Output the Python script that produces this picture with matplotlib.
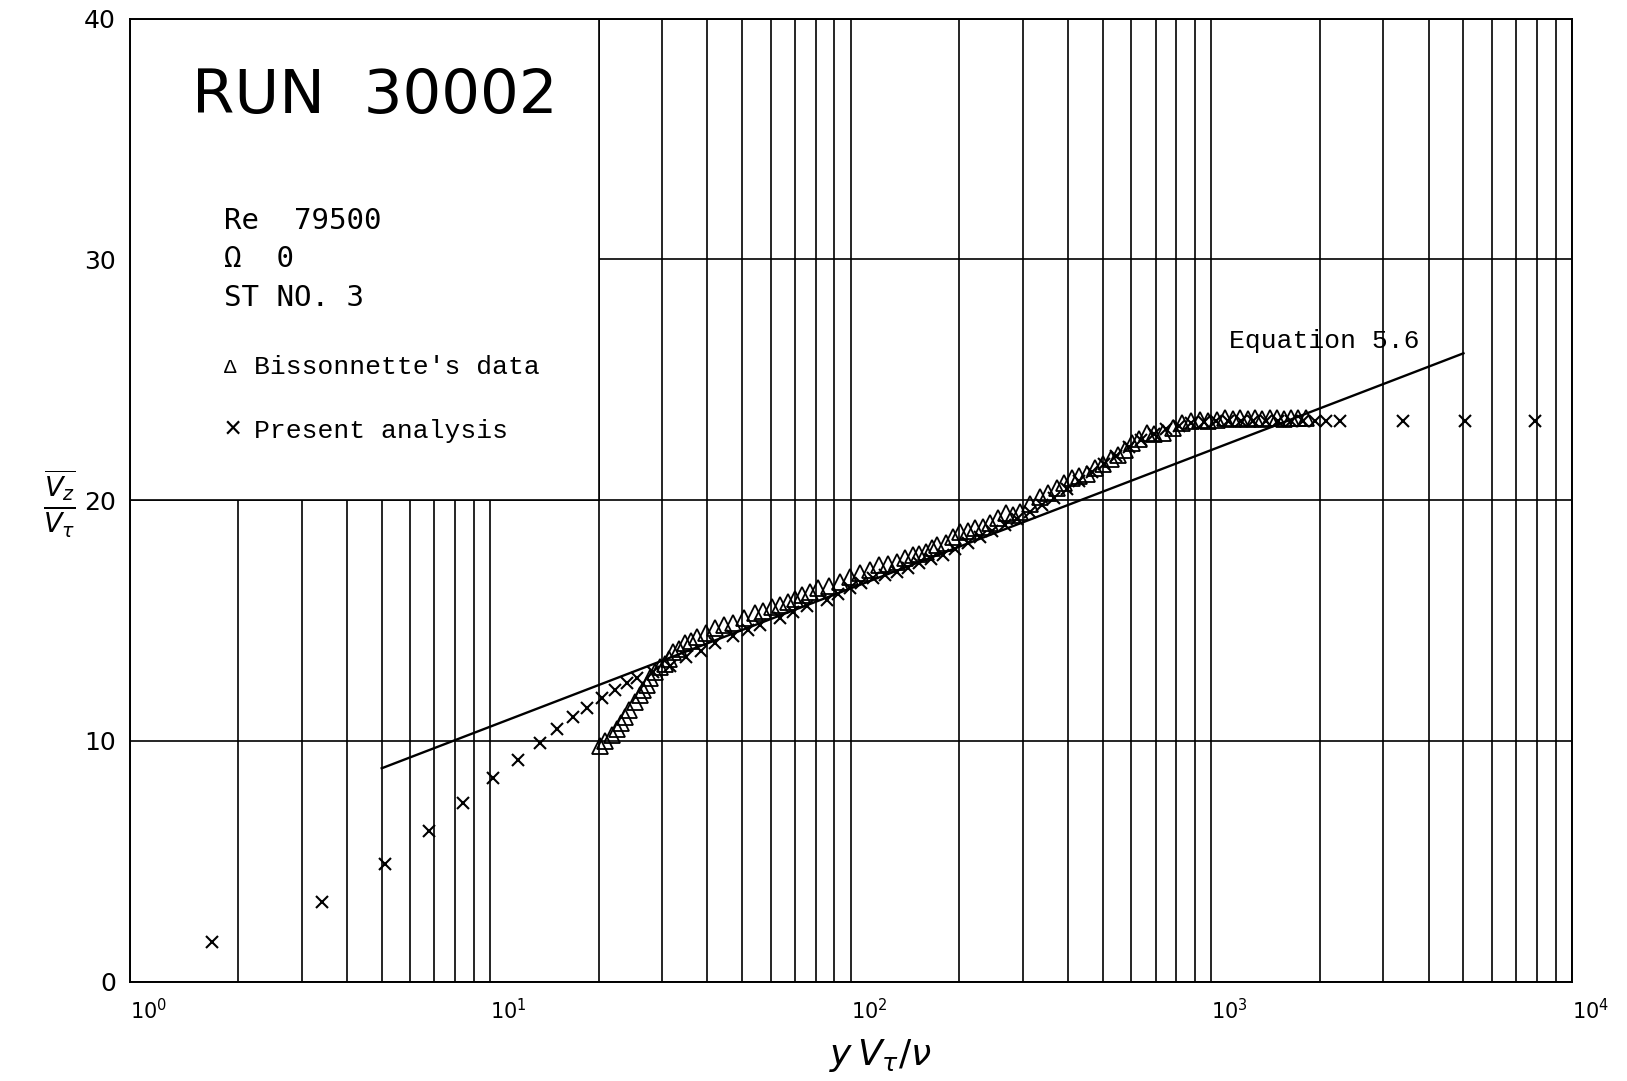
import matplotlib
matplotlib.use("Agg")
import matplotlib.pyplot as plt
from matplotlib.patches import Rectangle
from matplotlib.ticker import LogLocator, NullFormatter, FixedLocator

# ---- data -------------------------------------------------------------
# Equation 5.6 (log law), end points of the drawn segment
eq_x = [5.0, 5000.0]
eq_y = [8.86, 26.1]

# Bissonnette's data (triangles)
bis_x = [20.2, 20.8, 21.7, 22.4, 23.1, 23.7, 24.3, 25.2, 26.0, 26.6, 27.2, 27.7,
         28.6, 29.5, 30.5, 31.3, 32.2, 33.4, 34.7, 36.0, 37.4, 39.6, 42.0, 44.5,
         47.2, 50.5, 54.2, 57.0, 60.3, 63.5, 67.0, 70.0, 73.0, 77.0, 81.2, 87.0,
         93.3, 99.5, 106, 113, 120, 127, 134, 141, 149, 155, 162, 168, 173, 184,
         192, 201, 211, 221, 232, 243, 256, 270, 282, 294, 313, 334, 352, 372,
         390, 410, 430, 451, 475, 500, 525, 551, 575, 601, 630, 661, 695, 734,
         780, 827, 878, 929, 980, 1033, 1090, 1145, 1199, 1260, 1320, 1385,
         1450, 1520, 1590, 1660, 1740, 1830]
bis_y = [9.79, 10.0, 10.24, 10.5, 10.76, 11.0, 11.28, 11.6, 11.9, 12.1, 12.32, 12.6,
         12.85, 13.05, 13.2, 13.4, 13.7, 13.8, 14.05, 14.15, 14.3, 14.5, 14.7, 14.8,
         14.9, 15.1, 15.3, 15.4, 15.57, 15.65, 15.78, 15.9, 16.06, 16.2, 16.34, 16.45,
         16.61, 16.8, 16.96, 17.1, 17.31, 17.35, 17.44, 17.6, 17.72, 17.78, 17.86, 18.0,
         18.14, 18.2, 18.45, 18.69, 18.7, 18.83, 18.9, 19.04, 19.25, 19.45, 19.4, 19.5,
         19.85, 20.15, 20.3, 20.5, 20.7, 20.9, 21.0, 21.1, 21.35, 21.5, 21.7, 21.88,
         22.1, 22.36, 22.55, 22.78, 22.75, 22.8, 23.0, 23.19, 23.3, 23.33, 23.3, 23.33,
         23.4, 23.35, 23.4, 23.35, 23.4, 23.35, 23.4, 23.4, 23.35, 23.4, 23.4, 23.4]

# Present analysis (crosses)
pa_x = [1.69, 3.41, 5.1, 6.77, 8.42, 10.2, 11.96, 13.7, 15.3, 17.0, 18.6, 20.4,
        22.2, 23.9, 25.6, 28.3, 31.5, 35.0, 38.5, 42.0, 47.2, 52.0, 56.0, 63.6,
        69.0, 75.4, 85.7, 92.0, 99.4, 107, 115, 124, 134, 144, 155, 167, 180, 195,
        211, 228, 247, 267, 289, 313, 339, 367, 397, 430, 465, 503, 545, 590, 639,
        692, 749, 811, 878, 951, 1030, 1115, 1207, 1307, 1415, 1532, 1658, 1795,
        1943, 2085, 2270, 3404, 5047, 7888]
pa_y = [1.66, 3.32, 4.89, 6.27, 7.43, 8.47, 9.2, 9.9, 10.48, 10.98, 11.35, 11.77,
        12.1, 12.39, 12.6, 12.85, 13.1, 13.5, 13.75, 14.05, 14.35, 14.6, 14.8, 15.1,
        15.35, 15.6, 15.85, 16.1, 16.34, 16.55, 16.76, 16.9, 17.03, 17.2, 17.38, 17.55,
        17.72, 17.95, 18.2, 18.45, 18.7, 18.95, 19.2, 19.5, 19.8, 20.1, 20.45, 20.8,
        21.15, 21.5, 21.85, 22.2, 22.5, 22.75, 22.95, 23.1, 23.2, 23.25, 23.3, 23.3,
        23.3, 23.3, 23.3, 23.3, 23.3, 23.3, 23.3, 23.3, 23.3, 23.3, 23.3, 23.3]

x_ticks = [1, 10, 100, 1000, 10000]
x_tick_labels = [r"$10^{0}$", r"$10^{1}$", r"$10^{2}$", r"$10^{3}$", r"$10^{4}$"]
y_ticks = [0, 10, 20, 30, 40]
y_tick_labels = ["0", "10", "20", "30", "40"]

# ---- figure -----------------------------------------------------------
fig = plt.figure(figsize=(16.27, 10.81), dpi=100)
ax = fig.add_axes([0.0797, 0.092, 0.8865, 0.8907])

ax.set_xscale("log")
ax.set_xlim(1, 1e4)
ax.set_ylim(0, 40)
ax.set_axisbelow(True)

ax.xaxis.set_major_locator(FixedLocator(x_ticks))
ax.xaxis.set_minor_locator(LogLocator(base=10, subs=[2, 3, 4, 5, 6, 7, 8, 9]))
ax.xaxis.set_minor_formatter(NullFormatter())
ax.set_xticklabels(x_tick_labels, fontsize=15, ha="left")
ax.set_yticks(y_ticks)
ax.set_yticklabels(y_tick_labels, fontsize=18)
ax.tick_params(axis="both", which="both", length=0)
ax.tick_params(axis="x", pad=12)
ax.tick_params(axis="y", pad=10)

grid_kw = dict(color="black", linewidth=1.2)
ax.grid(True, axis="x", which="both", **grid_kw)
ax.grid(True, axis="y", which="major", **grid_kw)
for s in ax.spines.values():
    s.set_linewidth(1.4)

# blank title block in the upper-left corner of the grid
ax.add_patch(Rectangle((1, 20), 19, 20, facecolor="white", edgecolor="black",
                       linewidth=1.2, zorder=1))

# curves
ax.plot(eq_x, eq_y, color="black", linewidth=1.7, zorder=3)
ax.plot(bis_x, bis_y, linestyle="none", marker="^", markersize=11,
        markerfacecolor="none", markeredgecolor="black", markeredgewidth=1.3,
        zorder=4)
ax.plot(pa_x, pa_y, linestyle="none", marker="x", markersize=9,
        color="black", markeredgewidth=1.5, zorder=5)

# annotations
mono = ["Liberation Mono", "DejaVu Sans Mono"]
ax.text(1120, 26.6, "Equation 5.6", fontsize=19, family=mono,
        ha="left", va="center", zorder=6)

ax.text(0.043, 0.919, "RUN  30002", transform=ax.transAxes, fontsize=44,
        family="DejaVu Sans", ha="left", va="center", zorder=6)
ax.text(0.0654, 0.790, "Re  79500", transform=ax.transAxes, fontsize=21,
        family="DejaVu Sans Mono", ha="left", va="center", zorder=6)
ax.text(0.0654, 0.750, "\u03a9  0", transform=ax.transAxes, fontsize=21,
        family="DejaVu Sans Mono", ha="left", va="center", zorder=6)
ax.text(0.0654, 0.710, "ST NO. 3", transform=ax.transAxes, fontsize=21,
        family="DejaVu Sans Mono", ha="left", va="center", zorder=6)

ax.text(0.0654, 0.638, "\u0394", transform=ax.transAxes, fontsize=15,
        family=mono, ha="left", va="center", zorder=6)
ax.text(0.0862, 0.638, "Bissonnette's data", transform=ax.transAxes,
        fontsize=19, family=mono, ha="left", va="center", zorder=6)
ax.text(0.0654, 0.572, "\u00d7", transform=ax.transAxes, fontsize=22,
        family=mono, ha="left", va="center", zorder=6)
ax.text(0.0862, 0.572, "Present analysis", transform=ax.transAxes,
        fontsize=19, family=mono, ha="left", va="center", zorder=6)

# axis labels
fig.text(0.0364, 0.534, r"$\frac{\overline{V_z}}{V_\tau}$", fontsize=28,
         ha="center", va="center")
fig.text(0.541, 0.024, r"$y\,V_\tau/\nu$", fontsize=26, ha="center", va="center")

fig.savefig("out.png", dpi=100, facecolor="white")
